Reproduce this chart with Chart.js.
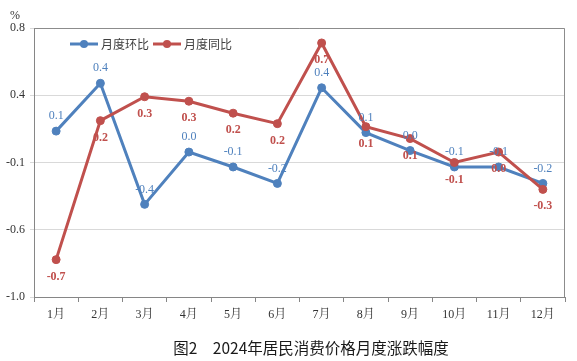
<!DOCTYPE html>
<html lang="zh">
<head>
    <meta charset="UTF-8">
    <title>2024年居民消费价格月度涨跌幅度</title>
    <script src="https://cdn.jsdelivr.net/npm/chart.js"></script>
    <style>
        body { margin: 0; background: #fff; }
        #wrap { width: 577px; height: 361px; }
    </style>
</head>
<body>
    <div id="wrap">
        <canvas id="cpiChart" width="577" height="361"></canvas>
    </div>
    <script>
        const months = ['1月', '2月', '3月', '4月', '5月', '6月', '7月', '8月', '9月', '10月', '11月', '12月'];
        // 月度环比 (blue) and 月度同比 (red), positions
        const momValues = [0.11, 0.43, -0.38, -0.03, -0.13, -0.24, 0.40, 0.10, -0.02, -0.13, -0.13, -0.24];
        const yoyValues = [-0.75, 0.18, 0.34, 0.31, 0.23, 0.16, 0.70, 0.14, 0.06, -0.10, -0.03, -0.28];
        // printed labels
        const momLabels = ['0.1', '0.4', '-0.4', '0.0', '-0.1', '-0.2', '0.4', '0.1', '0.0', '-0.1', '-0.1', '-0.2'];
        const yoyLabels = ['-0.7', '0.2', '0.3', '0.3', '0.2', '0.2', '0.7', '0.1', '0.1', '-0.1', '0.0', '-0.3'];
        // axis ticks: evenly spaced, labels rounded to one decimal
        const yTickValues = [-1.0, -0.55, -0.1, 0.35, 0.8];
        const yTickLabels = ['-1.0', '-0.6', '-0.1', '0.4', '0.8'];

        const BLUE = '#4f81bd';
        const RED = '#c0504d';
        const SERIF = "'Liberation Serif', 'Noto Serif CJK SC', 'Noto Sans CJK SC', serif";
        const SANS = "'Noto Sans CJK SC', 'Noto Sans', sans-serif";

        const extras = {
            id: 'extras',
            beforeDatasetsDraw(chart) {
                const { ctx, chartArea: a } = chart;
                ctx.save();
                ctx.strokeStyle = '#8c8c8c';
                ctx.lineWidth = 1;
                ctx.beginPath();
                ctx.moveTo(a.left, a.top + 0.5);
                ctx.lineTo(a.right - 0.5, a.top + 0.5);
                ctx.lineTo(a.right - 0.5, a.bottom);
                ctx.stroke();
                ctx.restore();
            },
            afterDatasetsDraw(chart) {
                const ctx = chart.ctx;
                ctx.save();
                ctx.textAlign = 'center';
                ctx.textBaseline = 'middle';
                chart.data.datasets.forEach((ds, i) => {
                    const meta = chart.getDatasetMeta(i);
                    ctx.fillStyle = ds.borderColor;
                    ctx.font = (ds.labelBold ? 'bold ' : '') + '12px ' + SERIF;
                    meta.data.forEach((pt, j) => {
                        ctx.fillText(ds.pointLabels[j], pt.x, pt.y + ds.labelOffset);
                    });
                });

                // legend inside the plot
                let x = 70;
                const y = 44;
                ctx.textAlign = 'left';
                ctx.font = '12px ' + SANS;
                chart.data.datasets.forEach(ds => {
                    ctx.strokeStyle = ds.borderColor;
                    ctx.fillStyle = ds.borderColor;
                    ctx.lineWidth = 3;
                    ctx.beginPath();
                    ctx.moveTo(x, y);
                    ctx.lineTo(x + 28, y);
                    ctx.stroke();
                    ctx.beginPath();
                    ctx.arc(x + 14, y, 4, 0, Math.PI * 2);
                    ctx.fill();
                    ctx.fillStyle = '#404040';
                    ctx.fillText(ds.label, x + 31, y);
                    x += 31 + ctx.measureText(ds.label).width + 4;
                });

                // unit and caption
                ctx.fillStyle = '#333';
                ctx.font = '12px ' + SERIF;
                ctx.textAlign = 'center';
                ctx.fillText('%', 15, 16);
                ctx.fillStyle = '#1a1a1a';
                ctx.font = '15.5px ' + SANS;
                ctx.fillText('图2\u30002024年居民消费价格月度涨跌幅度', 311, 348);
                ctx.restore();
            }
        };

        new Chart(document.getElementById('cpiChart').getContext('2d'), {
            type: 'line',
            data: {
                labels: months,
                datasets: [{
                    label: '月度环比',
                    data: momValues,
                    pointLabels: momLabels,
                    labelOffset: -15,
                    labelBold: false,
                    borderColor: BLUE,
                    backgroundColor: BLUE,
                    pointBackgroundColor: BLUE,
                    borderWidth: 3,
                    pointRadius: 4,
                    pointBorderWidth: 1,
                    tension: 0,
                    order: 1
                }, {
                    label: '月度同比',
                    data: yoyValues,
                    pointLabels: yoyLabels,
                    labelOffset: 17,
                    labelBold: true,
                    borderColor: RED,
                    backgroundColor: RED,
                    pointBackgroundColor: RED,
                    borderWidth: 3,
                    pointRadius: 4,
                    pointBorderWidth: 1,
                    tension: 0,
                    order: 0
                }]
            },
            options: {
                responsive: false,
                animation: false,
                layout: { padding: { top: 28, right: 12, left: 0, bottom: 0 } },
                plugins: {
                    legend: { display: false },
                    tooltip: { enabled: false }
                },
                scales: {
                    x: {
                        offset: true,
                        grid: {
                            offset: true,
                            drawOnChartArea: false,
                            drawTicks: true,
                            tickLength: 5,
                            color: '#868686'
                        },
                        border: { color: '#868686', width: 1 },
                        ticks: {
                            font: { family: SERIF, size: 12 },
                            color: '#333',
                            padding: 6,
                            maxRotation: 0,
                            autoSkip: false
                        },
                        afterFit: s => { s.height = 64; }
                    },
                    y: {
                        min: -1.0,
                        max: 0.8,
                        afterBuildTicks: s => {
                            s.ticks = yTickValues.map(v => ({ value: v }));
                        },
                        grid: {
                            color: '#d9d9d9',
                            tickLength: 4
                        },
                        border: { color: '#868686', width: 1 },
                        ticks: {
                            font: { family: SERIF, size: 12 },
                            color: '#333',
                            padding: 5,
                            callback: (v, i) => yTickLabels[i]
                        },
                        afterFit: s => { s.width = 34; }
                    }
                }
            },
            plugins: [extras]
        });
    </script>
</body>
</html>
